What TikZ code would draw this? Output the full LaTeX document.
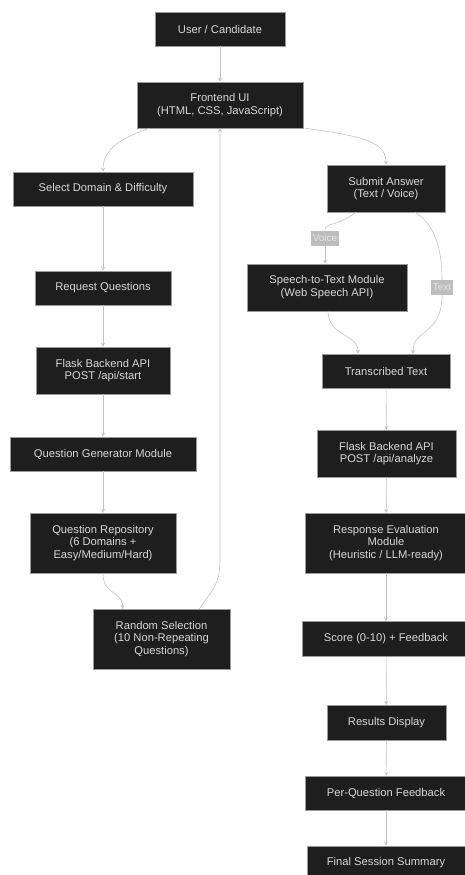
\documentclass[tikz,border=0pt]{standalone}
\usepackage{fontspec}
\setmainfont{Liberation Sans}
\usetikzlibrary{arrows.meta}
\definecolor{boxfill}{HTML}{1E1E1E}
\definecolor{boxline}{HTML}{9A9A9A}
\definecolor{boxtext}{HTML}{D8D8D8}
\definecolor{edgecol}{HTML}{C4C4C4}
\definecolor{lblfill}{HTML}{BDBDBD}
\definecolor{lbltext}{HTML}{E6E6E6}
\begin{document}
\begin{tikzpicture}[x=1pt,y=-1pt,
  box/.style={draw=boxline, line width=0.5pt, fill=boxfill, text=boxtext, align=center,
    font=\fontsize{11.2}{12.8}\selectfont, inner sep=0pt},
  conn/.style={draw=edgecol, line width=0.6pt, -{Stealth[length=4pt,width=4pt,open]}},
  lbl/.style={fill=lblfill, text=lbltext, font=\fontsize{10}{12}\selectfont, inner sep=1.5pt, minimum height=15pt}
]
\useasboundingbox (0,0) rectangle (465,875);
\fill[white] (0,0) rectangle (465,875);

\node[box, minimum width=130pt, minimum height=34pt] (user) at (220,29) {User / Candidate};
\node[box, minimum width=166pt, minimum height=46pt] (fe) at (220,105) {Frontend UI\\(HTML, CSS, JavaScript)};
\node[box, minimum width=180pt, minimum height=34pt] (sel) at (103,189) {Select Domain \& Difficulty};
\node[box, minimum width=136pt, minimum height=34pt] (req) at (103,288) {Request Questions};
\node[box, minimum width=134pt, minimum height=47pt] (fstart) at (103,370.5) {Flask Backend API\\POST /api/start};
\node[box, minimum width=186pt, minimum height=34pt] (qgen) at (103,454) {Question Generator Module};
\node[box, minimum width=146pt, minimum height=60pt] (qrepo) at (103,543) {Question Repository\\(6 Domains +\\Easy/Medium/Hard)};
\node[box, minimum width=137pt, minimum height=60pt] (rand) at (161.5,639) {Random Selection\\(10 Non-Repeating\\Questions)};

\node[box, minimum width=118pt, minimum height=47pt] (sub) at (386,188.5) {Submit Answer\\(Text / Voice)};
\node[box, minimum width=160pt, minimum height=47pt] (stt) at (327,287.5) {Speech-to-Text Module\\(Web Speech API)};
\node[box, minimum width=128pt, minimum height=34pt] (trans) at (386,371) {Transcribed Text};
\node[box, minimum width=139pt, minimum height=47pt] (fan) at (386.5,453.5) {Flask Backend API\\POST /api/analyze};
\node[box, minimum width=162pt, minimum height=60pt] (resp) at (386,543) {Response Evaluation\\Module\\(Heuristic / LLM-ready)};
\node[box, minimum width=168pt, minimum height=35pt] (score) at (386,639) {Score (0-10) + Feedback};
\node[box, minimum width=119pt, minimum height=35pt] (res) at (386.5,722.5) {Results Display};
\node[box, minimum width=162pt, minimum height=34pt] (pq) at (386,793) {Per-Question Feedback};
\node[box, minimum width=158pt, minimum height=34pt] (fin) at (386,863) {Final Session Summary};

% left branch
\draw[conn] (user) -- (fe);
\draw[conn] (fe.south west) ++(13,0) .. controls +(-30,10) and +(0,-22) .. (sel.north);
\draw[conn] (fe.south east) ++(2,0) .. controls +(60,8) and +(0,-22) .. (sub.north);
\draw[conn] (sel) -- (req);
\draw[conn] (req) -- (fstart);
\draw[conn] (fstart) -- (qgen);
\draw[conn] (qgen) -- (qrepo);
\draw[conn] (qrepo.south) .. controls +(0,22) and +(0,-18) .. ([xshift=-39pt]rand.north);
\coordinate (rup) at (220,560);
\draw[conn] ([xshift=38pt]rand.north) .. controls +(12,-18) and +(0,25) .. (rup) -- (fe.south -| rup);

% right branch
\node[lbl] (lv) at (325,238) {Voice};
\node[lbl] (lt) at (442,287.5) {Text};
\draw[draw=edgecol, line width=0.6pt] ([xshift=-30pt]sub.south) .. controls +(-20,15) and +(0,-8) .. (lv.north);
\draw[conn] (lv.south) -- (lv.south |- stt.north);
\draw[draw=edgecol, line width=0.6pt] ([xshift=29pt]sub.south) .. controls +(20,12) and +(0,-30) .. (lt.north);
\draw[conn] (lt.south) .. controls +(0,40) and +(0,-25) .. ([xshift=27pt]trans.north);
\draw[conn] ([xshift=1pt]stt.south) .. controls +(0,25) and +(0,-20) .. ([xshift=-28pt]trans.north);
\draw[conn] (trans) -- (fan);
\draw[conn] (fan) -- (resp);
\draw[conn] (resp) -- (score);
\draw[conn] (score) -- (res);
\draw[conn] (res) -- (pq);
\draw[conn] (pq) -- (fin);
\end{tikzpicture}
\end{document}
